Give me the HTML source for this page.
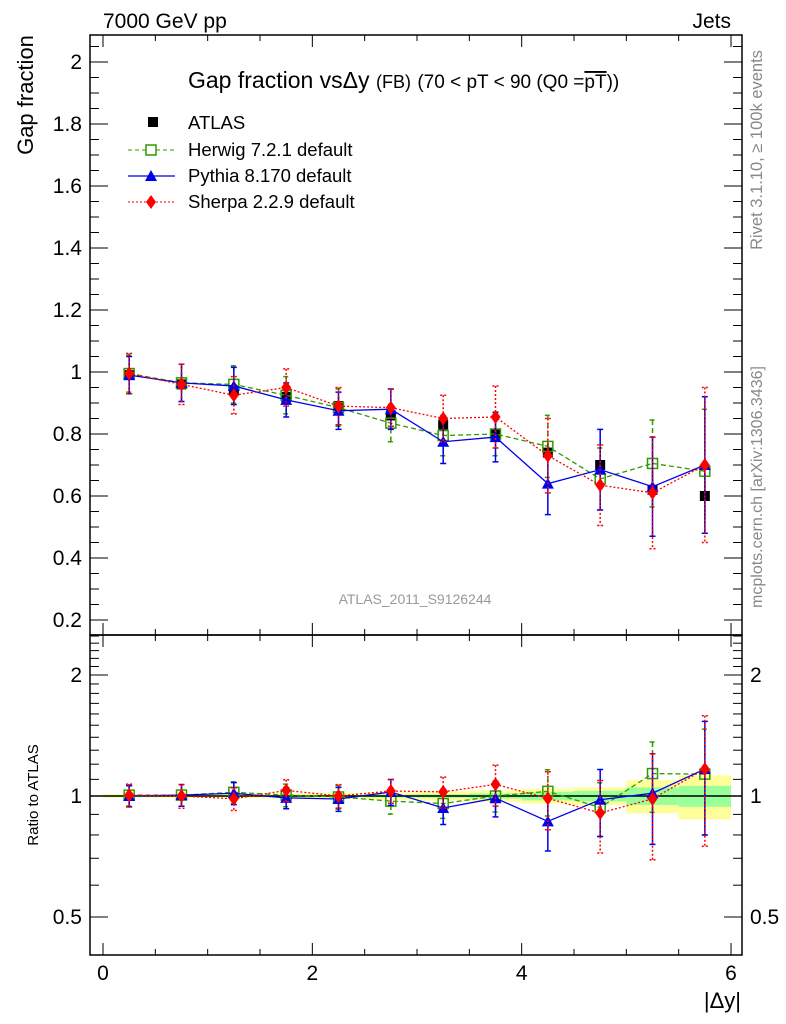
<!DOCTYPE html>
<html><head><meta charset="utf-8"><style>
body{margin:0;background:#fff;}
svg{display:block;font-family:"Liberation Sans",sans-serif;}
</style></head><body>
<svg id="c" width="786" height="1024" xmlns="http://www.w3.org/2000/svg">
<text x="103" y="28" font-size="21">7000 GeV pp</text>
<text x="731" y="28" font-size="21" text-anchor="end">Jets</text>
<text x="188" y="88" font-size="23">Gap fraction vs<tspan>Δy</tspan> <tspan font-size="18">(FB)</tspan> <tspan font-size="19">(70 &lt; pT &lt;  90 (Q0 =</tspan><tspan font-size="19" text-decoration="overline">pT</tspan><tspan font-size="19">))</tspan></text>
<text x="0" y="0" font-size="22" transform="translate(33,95) rotate(-90)" text-anchor="middle">Gap fraction</text>
<text x="0" y="0" font-size="15" transform="translate(38,795) rotate(-90)" text-anchor="middle">Ratio to ATLAS</text>
<text x="741" y="1008" font-size="22" text-anchor="end">|Δy|</text>
<text x="0" y="0" font-size="16.5" fill="#888" transform="translate(762,150) rotate(-90)" text-anchor="middle">Rivet 3.1.10, ≥ 100k events</text>
<text x="0" y="0" font-size="16" fill="#888" transform="translate(762,487) rotate(-90)" text-anchor="middle">mcplots.cern.ch [arXiv:1306.3436]</text>
<text x="415" y="604" font-size="14" fill="#999" text-anchor="middle">ATLAS_2011_S9126244</text>
<g id="bands"></g><g id="marks"></g><g id="axes"></g>
<g font-size="18.5">
 <rect x="148" y="117" width="10" height="10" fill="#000"/>
 <text x="188" y="129">ATLAS</text>
 <line x1="128" y1="150" x2="175" y2="150" stroke="#339900" stroke-dasharray="4,3"/>
 <rect x="146" y="145" width="10" height="10" fill="#fff" stroke="#339900" stroke-width="1.5"/>
 <text x="188" y="156">Herwig 7.2.1 default</text>
 <line x1="128" y1="176" x2="175" y2="176" stroke="#0000ee" stroke-width="1.3"/>
 <polygon points="151,170 157,181 145,181" fill="#0000ee"/>
 <text x="188" y="182">Pythia 8.170 default</text>
 <line x1="128" y1="202" x2="175" y2="202" stroke="#ff0000" stroke-dasharray="2,2"/>
 <polygon points="151,195 156,202 151,209 146,202" fill="#ff0000"/>
 <text x="188" y="208">Sherpa 2.2.9 default</text>
</g>
</svg>
<script>
const xCenters=[0.25,0.75,1.25,1.75,2.25,2.75,3.25,3.75,4.25,4.75,5.25,5.75];
const atlas=[0.99,0.96,0.94,0.92,0.89,0.86,0.83,0.80,0.74,0.70,0.62,0.60];
const atlasStatRel=[0.004,0.004,0.005,0.006,0.006,0.008,0.01,0.015,0.025,0.03,0.05,0.06];
const atlasTotRel=[0.01,0.011,0.013,0.015,0.018,0.022,0.026,0.032,0.042,0.05,0.095,0.125];
const herwig=[0.995,0.965,0.96,0.925,0.885,0.835,0.795,0.80,0.76,0.655,0.705,0.68];
const herwigErr=[0.06,0.06,0.06,0.06,0.06,0.06,0.065,0.07,0.10,0.10,0.14,0.20];
const pythia=[0.99,0.965,0.955,0.91,0.875,0.88,0.775,0.79,0.64,0.685,0.63,0.70];
const pythiaErr=[0.06,0.06,0.06,0.055,0.06,0.065,0.07,0.08,0.10,0.13,0.16,0.22];
const sherpa=[0.995,0.96,0.925,0.95,0.89,0.885,0.85,0.855,0.73,0.635,0.61,0.70];
const sherpaErr=[0.065,0.065,0.06,0.06,0.06,0.06,0.075,0.10,0.12,0.13,0.18,0.25];
const mainTicks=[0.2,0.4,0.6,0.8,1,1.2,1.4,1.6,1.8,2];
const ratioTicks=[0.5,1,2];
const xTicks=[0,2,4,6];

const NS='http://www.w3.org/2000/svg';
const L=90,R=742,T=35,MB=635,RB=955;
const X=v=>103+v*104.67;
const Y=v=>372-(v-1)*310;
const YR=v=>796-Math.log2(v)*121;
function mk(tag,attrs,parent){const e=document.createElementNS(NS,tag);for(const k in attrs)e.setAttribute(k,attrs[k]);parent.appendChild(e);return e;}
const bands=document.getElementById('bands'),marks=document.getElementById('marks'),axes=document.getElementById('axes');

xCenters.forEach((c,i)=>{
 const y1=YR(1+atlasTotRel[i]),y2=YR(1-atlasTotRel[i]);
 const b=mk('rect',{x:X(c-0.25),y:y1,width:X(c+0.25)-X(c-0.25),height:y2-y1,fill:'#ffff99'},bands);
 
 
 const g1=YR(1+atlasStatRel[i]),g2=YR(1-atlasStatRel[i]);
 const g=mk('rect',{x:X(c-0.25),y:g1,width:X(c+0.25)-X(c-0.25),height:g2-g1,fill:'#99ff99'},bands);
 
 
});
const one=mk('line',{x1:L,x2:R,y1:YR(1),y2:YR(1),stroke:'#000','stroke-width':1.5},bands);



function series(name,vals,errs,color,dash,marker,ratio,drawLine){
 const yf=ratio?(v,i)=>YR(v/atlas[i]):(v,i)=>Y(v);
 if(drawLine){
  const pts=vals.map((v,i)=>X(xCenters[i])+','+yf(v,i)).join(' ');
  const pl=mk('polyline',{points:pts,fill:'none',stroke:color,'stroke-width':1.3,'stroke-dasharray':dash},marks);
  
  
 }
 vals.forEach((v,i)=>{
  const x=X(xCenters[i]),y=yf(v,i);
  if(errs){
   const yt=yf(v+errs[i],i),yb=yf(v-errs[i],i);
   const e=mk('path',{d:`M${x},${yt}V${yb}M${x-3},${yt}H${x+3}M${x-3},${yb}H${x+3}`,stroke:color,'stroke-width':1.5,'stroke-dasharray':dash,fill:'none'},marks);
   
   
  }
  let m;
  if(marker==='sq') m=mk('rect',{x:x-5,y:y-5,width:10,height:10,fill:'#000'},marks);
  if(marker==='osq') m=mk('rect',{x:x-5,y:y-5,width:10,height:10,fill:'none',stroke:color,'stroke-width':1.5},marks);
  if(marker==='tri') m=mk('polygon',{points:`${x},${y-6} ${x+6},${y+5} ${x-6},${y+5}`,fill:color},marks);
  if(marker==='dia') m=mk('polygon',{points:`${x},${y-7} ${x+5},${y} ${x},${y+7} ${x-5},${y}`,fill:color},marks);
  
  
 });
}
xCenters.forEach((c,i)=>{const x=X(c);const e=mk('path',{d:`M${x},${Y(atlas[i]*(1+atlasTotRel[i]))}V${Y(atlas[i]*(1-atlasTotRel[i]))}`,stroke:'#000','stroke-width':1.5},marks);
 
 });
series('atlas',atlas,null,'#000','none','sq',false,false);
series('herwig',herwig,herwigErr,'#339900','5,3','osq',false,true);
series('pythia',pythia,pythiaErr,'#0000ee','none','tri',false,true);
series('sherpa',sherpa,sherpaErr,'#ff0000','2,2','dia',false,true);
series('herwig-ratio',herwig,herwigErr,'#339900','5,3','osq',true,true);
series('pythia-ratio',pythia,pythiaErr,'#0000ee','none','tri',true,true);
series('sherpa-ratio',sherpa,sherpaErr,'#ff0000','2,2','dia',true,true);

[[T,MB,'main-plot-frame'],[MB,RB,'ratio-plot-frame']].forEach(([a,b,n])=>{
 const f=mk('rect',{x:L,y:a,width:R-L,height:b-a,fill:'none',stroke:'#000','stroke-width':1.5},axes);
 
 
});
for(let v=0;v<=6.01;v+=0.5){
 const x=X(v),maj=Math.abs(v-Math.round(v/2)*2)<1e-6,len=maj?12:6;
 [[T,1],[MB,-1],[MB,1],[RB,-1]].forEach(([y0,d])=>mk('line',{x1:x,x2:x,y1:y0,y2:y0+d*len,stroke:'#000'},axes));
}
xTicks.forEach(v=>{const t=mk('text',{x:X(v),y:980,'font-size':21,'text-anchor':'middle'},axes);t.textContent=v;
 });
for(let v=0.15;v<=2.08;v+=0.05){
 const y=Y(v);if(y<T||y>MB)continue;
 const maj=Math.abs(v*5-Math.round(v*5))<1e-6,len=maj?18:9;
 mk('line',{x1:L,x2:L+len,y1:y,y2:y,stroke:'#000'},axes);
 mk('line',{x1:R,x2:R-len,y1:y,y2:y,stroke:'#000'},axes);
}
mainTicks.forEach(v=>{const t=mk('text',{x:82,y:Y(v)+7,'font-size':21,'text-anchor':'end'},axes);t.textContent=v%1===0?v:v.toFixed(1);
 });
for(let v=0.4;v<=2.51;v+=0.1){
 const y=YR(v);if(y<MB||y>RB)continue;
 const r=Math.round(v*10)/10,maj=(r===0.5||r===1||r===2),len=maj?18:9;
 mk('line',{x1:L,x2:L+len,y1:y,y2:y,stroke:'#000'},axes);
 mk('line',{x1:R,x2:R-len,y1:y,y2:y,stroke:'#000'},axes);
}
ratioTicks.forEach(v=>{
 const t=mk('text',{x:82,y:YR(v)+7,'font-size':21,'text-anchor':'end'},axes);t.textContent=v;
 
 const t2=mk('text',{x:750,y:YR(v)+7,'font-size':21},axes);t2.textContent=v;
 
});
</script>
</body></html>
